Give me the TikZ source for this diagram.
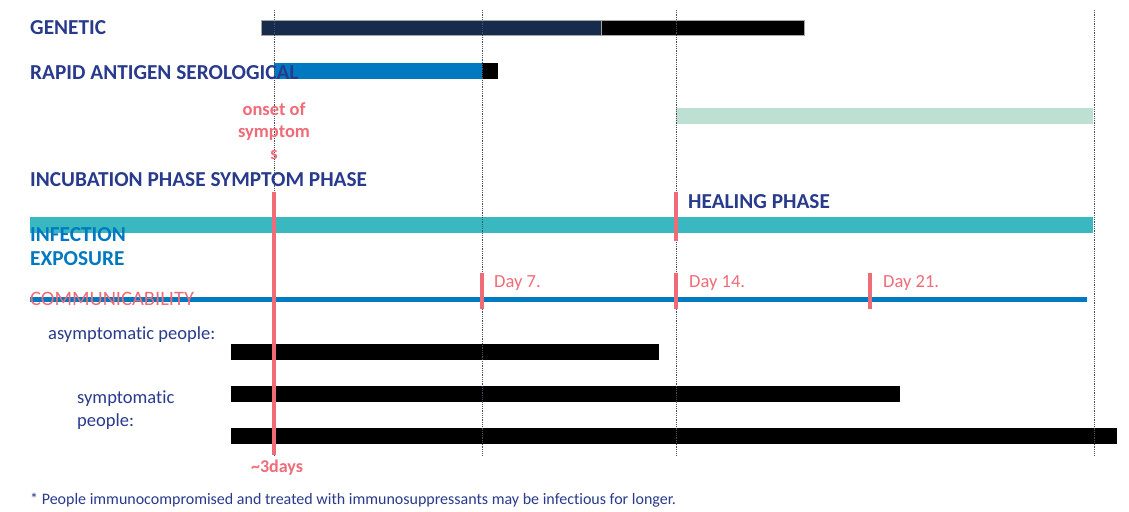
\documentclass[tikz,border=0pt]{standalone}
\usepackage{fontspec}
\setmainfont{Carlito}[Ligatures=NoCommon]
\usepackage{tikz}
\usetikzlibrary{positioning}

\definecolor{HeadBlue}{RGB}{40,58,140}
\definecolor{InfBlue}{RGB}{0,121,193}
\definecolor{NavyBar}{RGB}{23,43,77}
\definecolor{TealBar}{RGB}{58,184,191}
\definecolor{MintBar}{RGB}{189,224,211}
\definecolor{Rose}{RGB}{239,107,120}
\definecolor{GridGray}{RGB}{70,78,96}

\begin{document}
\begin{tikzpicture}[x=1pt, y=-1pt]
		\tikzstyle{Head}	= [anchor=base west, inner sep=0pt, font=\fontsize{21.3}{25}\selectfont\bfseries, text=HeadBlue]
		\tikzstyle{Note}	= [anchor=base, inner sep=0pt, font=\fontsize{18.5}{22}\selectfont\bfseries, text=Rose]
		\tikzstyle{Day}		= [anchor=base west, inner sep=0pt, font=\fontsize{18.5}{22}\selectfont, text=Rose]
		\tikzstyle{People}	= [anchor=base west, inner sep=0pt, font=\fontsize{18.5}{22}\selectfont, text=HeadBlue]
		\tikzstyle{Bar}		= [draw=gray!70, line width=0.5pt]
		\tikzstyle{Tick}	= [line width=4.5pt, Rose]
		\tikzstyle{Grid}	= [densely dotted, line width=0.8pt, GridGray]

		\useasboundingbox (0,0) rectangle (1129,511);

		% test windows
		\fill [NavyBar] (261,20) rectangle (601,35);
		\fill [black] (601,20) rectangle (804,35);
		\draw [Bar] (261,20) rectangle (804,35);
		\draw [gray!70] (601,20) -- (601,35);
		\fill [InfBlue] (274,63) rectangle (482,79);
		\fill [black] (482,63) rectangle (498,79);
		\fill [MintBar] (676,108) rectangle (1093,124);

		% phases
		\fill [TealBar] (30,217) rectangle (1093,233);
		\draw [line width=5pt, InfBlue] (30,299.5) -- (1087,299.5);

		% communicable periods
		\fill [black] (231,344) rectangle (659,360);
		\fill [black] (231,386) rectangle (900,402);
		\fill [black] (231,428) rectangle (1117,444);

		% week columns
		\foreach \x in {274,482,676,1094}
			\draw [Grid] (\x,10) -- (\x,455);

		\draw [Tick] (274,192) -- (274,455);
		\draw [Tick] (676,192) -- (676,241);
		\foreach \x in {482,676,870}
			\draw [Tick] (\x,273) -- (\x,309);

		\node (gen) at (30,35) [Head] {GENETIC};
		\node (rapid) at (30,79) [Head] {RAPID ANTIGEN SEROLOGICAL};
		\node (phase) at (30,186) [Head] {INCUBATION PHASE SYMPTOM PHASE};
		\node (heal) at (688,208) [Head] {HEALING PHASE};
		\node (infect) at (30,241.5) [Head, text=InfBlue] {INFECTION};
		\node (expo) at (30,265) [Head, text=InfBlue] {EXPOSURE};
		\node (comm) at (30,305) [Day, font=\fontsize{20.5}{24}\selectfont] {COMMUNICABILITY};

		\node (on1) at (274,115) [Note] {onset of};
		\node (on2) at (274,137) [Note] {symptom};
		\node (on3) at (274,159) [Note] {s};
		\node (days) at (277,472) [Note, font=\fontsize{18}{22}\selectfont\bfseries] {\textasciitilde3days};

		\node (d7) at (494,287) [Day] {Day 7.};
		\node (d14) at (689,287) [Day] {Day 14.};
		\node (d21) at (883,287) [Day] {Day 21.};

		\node (asym) at (48,339) [People] {asymptomatic people:};
		\node (sym1) at (77,403) [People] {symptomatic};
		\node (sym2) at (77,426) [People] {people:};

		\node (foot) at (30,504) [People, font=\fontsize{16}{19}\selectfont] {* People immunocompromised and treated with immunosuppressants may be infectious for longer.};
	\end{tikzpicture}
\end{document}
